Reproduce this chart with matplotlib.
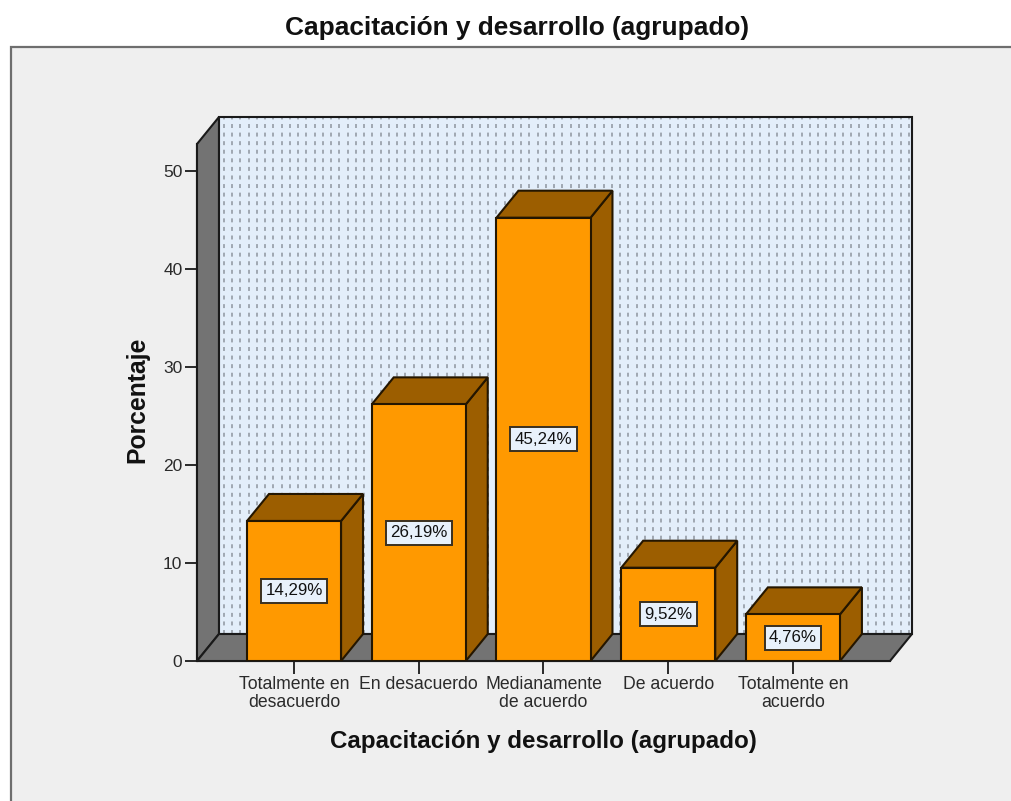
import numpy as np
import matplotlib
matplotlib.use('Agg')
import matplotlib.pyplot as plt
from matplotlib.patches import Polygon, Rectangle

categories = ['Totalmente en\ndesacuerdo', 'En desacuerdo', 'Medianamente\nde acuerdo',
              'De acuerdo', 'Totalmente en\nacuerdo']
percentages = [14.29, 26.19, 45.24, 9.52, 4.76]
value_labels = ['14,29%', '26,19%', '45,24%', '9,52%', '4,76%']
y_ticks = [0, 10, 20, 30, 40, 50]

W, H = 1012, 801
plt.rcParams['font.family'] = ['Liberation Sans', 'DejaVu Sans']

fig = plt.figure(figsize=(W / 100, H / 100), dpi=100, facecolor='white')

# Grey panel behind the chart, runs off the right and bottom edges
fig.patches.append(Rectangle((11 / W, -0.01), 1.01, 1.01 - 47 / H, transform=fig.transFigure,
                             facecolor='#efefef', edgecolor='#6e6e6e', linewidth=1.6, zorder=-1))

# Axes box is the front plane of the 3D box
ax = fig.add_axes([197 / W, 1 - 661 / H, (890 - 197) / W, (661 - 144) / H])
ax.set_xlim(-0.778, 4.778)
ax.set_ylim(0, 52.76)
ax.patch.set_visible(False)
for s in ['top', 'right']:
    ax.spines[s].set_visible(False)
for s in ['left', 'bottom']:
    ax.spines[s].set_color('#1a1a1a')
    ax.spines[s].set_linewidth(1.5)
    ax.spines[s].set_zorder(1)

# Depth of the box in data units
dx = 0.176
dy = 2.755
x0, x1 = ax.get_xlim()
y1 = ax.get_ylim()[1]
edge = '#1a1a1a'
bar_edge = '#241600'

# Back wall
ax.add_patch(Polygon([(x0 + dx, dy), (x1 + dx, dy), (x1 + dx, y1 + dy), (x0 + dx, y1 + dy)],
                     closed=True, facecolor='#e3eefa', edgecolor='none', clip_on=False, zorder=1))
# Dotted pattern on the back wall
xs = np.arange(x0 + dx + 0.04, x1 + dx, 8.25 / 124.7)
for x in xs:
    ax.plot([x, x], [dy, y1 + dy], color='#9aa2ac', linewidth=1.3, clip_on=False, zorder=1.1,
            linestyle=(0, (2.2, 2.55)), dash_capstyle='butt')
ax.add_patch(Polygon([(x0 + dx, dy), (x1 + dx, dy), (x1 + dx, y1 + dy), (x0 + dx, y1 + dy)],
                     closed=True, facecolor='none', edgecolor=edge, linewidth=1.5, clip_on=False, zorder=1.2))
# Left wall and floor
ax.add_patch(Polygon([(x0, 0), (x0 + dx, dy), (x0 + dx, y1 + dy), (x0, y1)], closed=True,
                     facecolor='#737373', edgecolor=edge, linewidth=1.5, clip_on=False, zorder=1.3))
ax.add_patch(Polygon([(x0, 0), (x1, 0), (x1 + dx, dy), (x0 + dx, dy)], closed=True,
                     facecolor='#737373', edgecolor=edge, linewidth=1.5, clip_on=False, zorder=1.3))

# Bars, each with its top and side face
half = 47 / 124.7
for i, v in enumerate(percentages):
    z = 2 + i * 0.1
    ax.add_patch(Polygon([(i + half, 0), (i + half + dx, dy), (i + half + dx, v + dy), (i + half, v)],
                         closed=True, facecolor='#9c5e00', edgecolor=bar_edge, linewidth=1.5, zorder=z))
    ax.add_patch(Polygon([(i - half, v), (i + half, v), (i + half + dx, v + dy), (i - half + dx, v + dy)],
                         closed=True, facecolor='#9c5e00', edgecolor=bar_edge, linewidth=1.5, zorder=z))
    ax.add_patch(Rectangle((i - half, 0), 2 * half, v, facecolor='#ff9900', edgecolor=bar_edge,
                           linewidth=1.5, zorder=z))
    ax.text(i, v / 2, value_labels[i], ha='center', va='center', fontsize=12.2, color='#111111',
            zorder=z + 0.05, bbox=dict(boxstyle='square,pad=0.26', facecolor='#e8f1fb',
                                       edgecolor='#3a3020', linewidth=1.4))

ax.set_xticks(range(len(categories)))
ax.set_xticklabels(categories, fontsize=12.7, color='#2a2a2a', linespacing=1.05)
ax.set_yticks(y_ticks)
ax.tick_params(axis='x', length=9, width=1.3, color='#1a1a1a', pad=2)
ax.tick_params(axis='y', length=9, width=1.3, color='#1a1a1a', pad=1.5, labelsize=12.5, labelcolor='#2a2a2a')

ax.set_xlabel('Capacitación y desarrollo (agrupado)', fontsize=17.4, fontweight='bold',
              color='#111111', labelpad=14)
ax.set_ylabel('Porcentaje', fontsize=17.8, fontweight='bold', color='#111111', labelpad=9.5, y=0.505)
fig.text(517 / W, 1 - 28 / H, 'Capacitación y desarrollo (agrupado)', ha='center', va='center',
         fontsize=18.9, color='#111111', fontweight='bold')

fig.savefig('out.png', dpi=100, facecolor='white')
